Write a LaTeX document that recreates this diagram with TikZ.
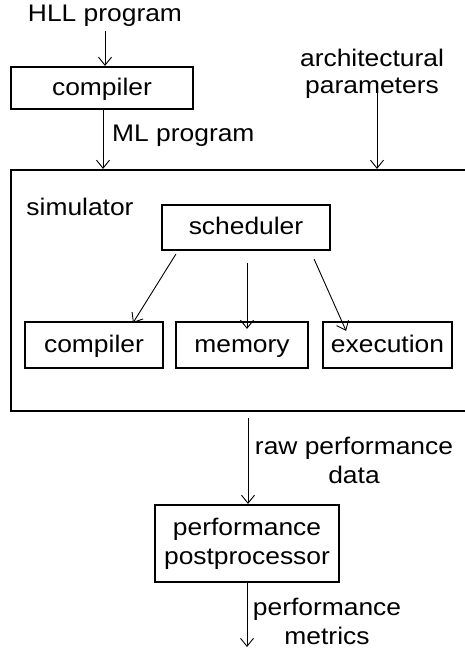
\documentclass[tikz,border=0pt]{standalone}
\usepackage{fontspec}
\newfontfamily\diagfont[FakeStretch=1.1]{Liberation Sans}
\usetikzlibrary{arrows.meta, positioning, calc}
\tikzset{%
    boxsty/.style={
        draw,
        line width=2.2pt,
        align=center,
        inner sep=0pt,
        font=\diagfont\fontsize{24}{29}\selectfont,
    },
    sboxsty/.style={
        boxsty,
        text height=18pt,
        text depth=4pt,
    },
    labelsty/.style={
        align=center,
        inner sep=0pt,
        font=\diagfont\fontsize{24}{29}\selectfont,
    },
    arrsty/.style={
        line width=0.9pt,
        -{Straight Barb[length=8pt,width=13pt,line width=0.9pt]},
    },
}
\begin{document}
\begin{tikzpicture}[x=1pt,y=-1pt]

\clip (0,0) rectangle (465,649);

% input side
\node (hll) [labelsty] at (105,16) {HLL program};
\node (cmp) [sboxsty,minimum width=182pt,minimum height=42pt] at (102,88) {compiler};
\node (ml) [labelsty,anchor=west] at (112,136) {ML program};
\node (arch) [labelsty,font=\diagfont\fontsize{24}{27}\selectfont] at (372,74) {architectural\\parameters};

% simulator frame and its parts
\node (sim) [boxsty,minimum width=464pt,minimum height=241pt] at (243,290.5) {};
\node (simlbl) [labelsty] at (80,207) {simulator};
\node (sched) [sboxsty,minimum width=168pt,minimum height=45pt] at (246,227.5) {scheduler};
\node (comp) [sboxsty,minimum width=138pt,minimum height=46pt] at (94,345) {compiler};
\node (mem) [sboxsty,minimum width=132pt,minimum height=46pt] at (242,345) {memory};
\node (exec) [sboxsty,minimum width=129pt,minimum height=46pt] at (387.5,345) {execution};

% output side
\node (raw) [labelsty] at (354,460) {raw performance\\data};
\node (perf) [boxsty,minimum width=184pt,minimum height=77pt] at (247,543.5) {performance\\postprocessor};
\node (met) [labelsty] at (327,621) {performance\\metrics};
\coordinate (out) at (247,647);

% connectors
\draw [arrsty] ([yshift=-4pt]hll.south) -- (hll.south |- cmp.north);
\draw [arrsty] ([xshift=1pt]cmp.south) -- ([xshift=1pt]cmp.south |- sim.north);
\draw [arrsty] ([xshift=5pt,yshift=12pt]arch.south) -- ([xshift=5pt]arch.south |- sim.north);
\draw [arrsty] ([xshift=15pt,yshift=-3pt]sched.south west) -- ([xshift=39pt,yshift=-2pt]comp.north);
\draw [arrsty] ([xshift=1pt,yshift=-12pt]sched.south) -- ($(sched.south |- mem.north)+(1,8)$);
\draw [arrsty] ([xshift=-17pt,yshift=-8pt]sched.south east) -- ([xshift=-107pt,yshift=-10pt]exec.north east);
\draw [arrsty] ([xshift=5pt,yshift=-6pt]sim.south) -- ([xshift=1pt]perf.north);
\draw [arrsty] (perf.south) -- (out);

\end{tikzpicture}
\end{document}
